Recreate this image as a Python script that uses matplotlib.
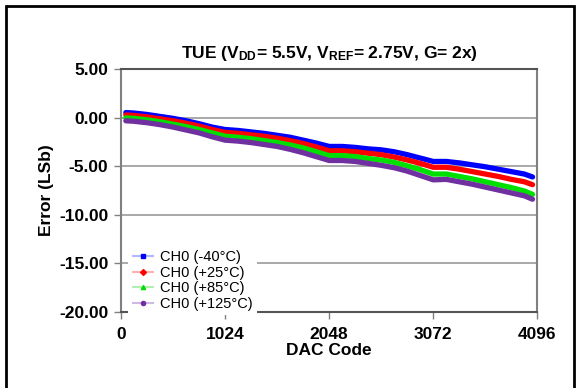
import matplotlib
matplotlib.use('Agg')
import matplotlib.pyplot as plt
from matplotlib.lines import Line2D
from matplotlib.patches import Rectangle

plt.rcParams['font.family'] = ['Liberation Sans', 'DejaVu Sans']
plt.rcParams['mathtext.fontset'] = 'custom'
plt.rcParams['mathtext.rm'] = 'Liberation Sans:bold'
plt.rcParams['mathtext.default'] = 'rm'

codes = [48, 128, 256, 384, 512, 640, 768, 896, 1024, 1152, 1280, 1408, 1536,
         1664, 1792, 1920, 2048, 2176, 2304, 2432, 2560, 2688, 2816, 2944, 3072,
         3200, 3328, 3456, 3584, 3712, 3840, 3968, 4048]

err_m40 = [0.55, 0.5, 0.35, 0.15, -0.05, -0.3, -0.6, -0.95, -1.2, -1.3, -1.45, -1.6, -1.8,
           -2.0, -2.3, -2.6, -2.95, -2.95, -3.05, -3.2, -3.3, -3.5, -3.8, -4.15, -4.5,
           -4.5, -4.65, -4.85, -5.05, -5.3, -5.55, -5.8, -6.1]
err_p25 = [0.3, 0.25, 0.1, -0.1, -0.3, -0.55, -0.85, -1.2, -1.5, -1.6, -1.75, -1.9, -2.1,
           -2.35, -2.65, -3.0, -3.4, -3.4, -3.5, -3.65, -3.8, -4.05, -4.35, -4.7, -5.1,
           -5.1, -5.3, -5.55, -5.8, -6.05, -6.35, -6.6, -6.9]
err_p85 = [0.0, -0.05, -0.2, -0.4, -0.65, -0.9, -1.2, -1.55, -1.9, -2.0, -2.15, -2.35, -2.55,
           -2.8, -3.1, -3.5, -3.9, -3.9, -4.0, -4.2, -4.35, -4.6, -4.95, -5.35, -5.8,
           -5.8, -6.05, -6.3, -6.6, -6.9, -7.2, -7.55, -7.9]
err_p125 = [-0.3, -0.35, -0.5, -0.7, -0.95, -1.25, -1.55, -1.95, -2.3, -2.4, -2.55, -2.75, -2.95,
            -3.25, -3.6, -4.0, -4.4, -4.4, -4.5, -4.7, -4.9, -5.15, -5.5, -5.95, -6.4,
            -6.35, -6.6, -6.85, -7.15, -7.45, -7.75, -8.05, -8.4]

labels = ['CH0 (-40°C)', 'CH0 (+25°C)', 'CH0 (+85°C)', 'CH0 (+125°C)']
colors = ['#0000ff', '#ff0000', '#00e000', '#7030a0']
light = ['#b0b8ff', '#ffb0b0', '#b0f0b0', '#d0b8e8']
markers = ['s', 'D', '^', 'o']
series = [err_m40, err_p25, err_p85, err_p125]

fig = plt.figure(figsize=(5.76, 3.88), dpi=100)
ax = fig.add_axes([0.210, 0.197, 0.723, 0.624])

for vals, c in zip(series, colors):
    ax.plot(codes, vals, color=c, lw=3.8, solid_capstyle='round', zorder=3)

ax.set_xlim(0, 4096)
ax.set_ylim(-20, 5)
ax.set_xticks([0, 1024, 2048, 3072, 4096])
ax.set_yticks([5, 0, -5, -10, -15, -20])
ax.set_yticklabels(['5.00', '0.00', '-5.00', '-10.00', '-15.00', '-20.00'])
ax.yaxis.grid(True, color='#999999', lw=1.2)
ax.set_axisbelow(True)
for s in ax.spines.values():
    s.set_color('#808080')
    s.set_linewidth(1.5)
ax.spines['top'].set_color('#555555')
ax.spines['bottom'].set_color('#555555')
ax.tick_params(axis='both', direction='out', length=5, width=1, color='#808080',
               labelsize=12.5, pad=4)
ax.tick_params(axis='x', pad=6)
for t in ax.get_xticklabels() + ax.get_yticklabels():
    t.set_fontweight('bold')

ax.set_xlabel('DAC Code', fontsize=12.5, fontweight='bold', labelpad=1)
ax.set_ylabel('Error (LSb)', fontsize=12.5, fontweight='bold', labelpad=4)
ax.set_title(r'TUE (V$_{DD}$= 5.5V, V$_{REF}$= 2.75V, G= 2x)',
             fontsize=12.5, fontweight='bold', pad=8)

handles = [Line2D([0], [0], color=l, lw=1.5, marker=m, markersize=3,
                  markerfacecolor=c, markeredgecolor=c)
           for c, l, m in zip(colors, light, markers)]
leg = ax.legend(handles, labels, loc='lower left', bbox_to_anchor=(0.0, -0.045),
                fontsize=10.5, frameon=True, framealpha=1, facecolor='white',
                edgecolor='none', handlelength=1.4, handletextpad=0.5,
                labelspacing=0.1, borderpad=0.3, fancybox=False)
leg.set_zorder(5)

fig.patches.append(Rectangle((6 / 576, -0.05), 568 / 576, 1.05 - 6 / 388,
                             transform=fig.transFigure, fill=False,
                             edgecolor='black', lw=2))

fig.savefig('out.png', dpi=100)
